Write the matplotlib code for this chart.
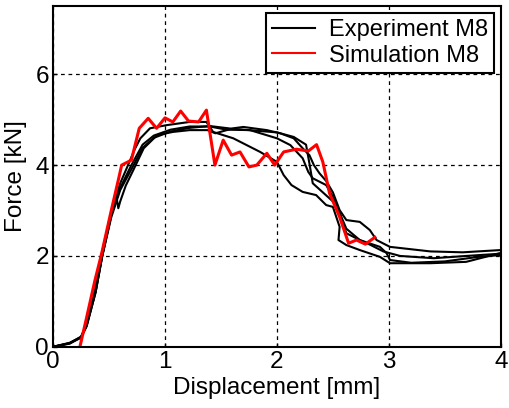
import matplotlib
matplotlib.use("Agg")
import matplotlib.pyplot as plt

plt.rcParams['font.family'] = ['Liberation Sans', 'DejaVu Sans']

# Simulation M8
sim_x = [0.24, 0.295, 0.345, 0.375, 0.435, 0.52, 0.583, 0.613, 0.70, 0.77, 0.85, 0.925, 1.0,
         1.07, 1.14, 1.21, 1.30, 1.37, 1.446, 1.52, 1.595, 1.67, 1.75, 1.82, 1.91, 1.98, 2.06,
         2.175, 2.28, 2.354, 2.41, 2.47, 2.56, 2.64, 2.71, 2.79, 2.875]
sim_y = [0.0, 0.59, 1.14, 1.47, 2.06, 3.0, 3.67, 4.0, 4.11, 4.81, 5.03, 4.81, 5.04,
         4.95, 5.19, 4.97, 4.95, 5.21, 4.0, 4.55, 4.22, 4.29, 3.96, 4.0, 4.26, 4.0, 4.29,
         4.35, 4.31, 4.45, 4.07, 3.38, 2.86, 2.28, 2.35, 2.26, 2.41]

# Experiment M8 (four specimens)
exp1_x = [0.0, 0.15, 0.25, 0.30, 0.375, 0.435, 0.52, 0.60, 0.67, 0.73, 0.78, 0.866, 1.015,
          1.22, 1.37, 1.43, 1.61, 1.85, 2.0, 2.06, 2.13, 2.23, 2.35, 2.44, 2.50, 2.56, 2.55,
          2.62, 2.74, 2.92, 3.01, 3.37, 3.69, 3.99]
exp1_y = [0.0, 0.09, 0.22, 0.5, 1.25, 2.06, 2.94, 3.6, 4.0, 4.35, 4.59, 4.81, 4.88,
          4.95, 4.95, 4.73, 4.59, 4.29, 4.07, 3.78, 3.56, 3.41, 3.34, 3.12, 3.08, 2.64, 2.35,
          2.24, 2.13, 1.98, 1.84, 1.84, 1.87, 2.06]

exp2_x = [0.0, 0.15, 0.25, 0.30, 0.38, 0.44, 0.52, 0.57, 0.583, 0.60, 0.65, 0.717, 0.81,
          0.93, 1.07, 1.22, 1.38, 1.45, 1.61, 1.70, 1.91, 2.03, 2.15, 2.23, 2.29, 2.33, 2.38,
          2.44, 2.50, 2.56, 2.62, 2.74, 2.83, 2.89, 3.01, 3.37, 3.66, 4.0]
exp2_y = [0.0, 0.08, 0.2, 0.45, 1.2, 2.0, 2.9, 3.25, 3.05, 3.2, 3.55, 3.89, 4.37,
          4.66, 4.73, 4.77, 4.77, 4.70, 4.81, 4.84, 4.77, 4.70, 4.59, 4.37, 4.22, 4.0, 3.82,
          3.65, 3.4, 3.01, 2.79, 2.75, 2.57, 2.35, 2.20, 2.10, 2.08, 2.13]

exp3_x = [0.0, 0.15, 0.25, 0.30, 0.38, 0.44, 0.52, 0.60, 0.70, 0.80, 0.90, 1.05, 1.22,
          1.40, 1.55, 1.76, 2.0, 2.12, 2.23, 2.28, 2.32, 2.44, 2.50, 2.58, 2.62, 2.74, 2.92,
          2.98, 3.01, 3.2, 3.5, 3.8, 4.0]
exp3_y = [0.0, 0.07, 0.21, 0.48, 1.22, 2.02, 2.9, 3.5, 4.0, 4.45, 4.65, 4.78, 4.85,
          4.85, 4.78, 4.77, 4.59, 4.44, 4.15, 3.85, 3.71, 3.56, 3.3, 2.8, 2.50, 2.35, 2.2,
          2.06, 1.91, 1.85, 1.88, 1.98, 2.02]

exp4_x = [0.0, 0.15, 0.25, 0.30, 0.38, 0.44, 0.52, 0.60, 0.72, 0.80, 0.90, 1.05, 1.22,
          1.40, 1.60, 1.80, 2.0, 2.15, 2.26, 2.29, 2.32, 2.41, 2.50, 2.56, 2.62, 2.74, 2.83,
          2.95, 3.10, 3.40, 3.69, 4.0]
exp4_y = [0.0, 0.08, 0.22, 0.46, 1.2, 2.0, 2.85, 3.45, 4.0, 4.38, 4.6, 4.74, 4.82,
          4.86, 4.80, 4.76, 4.72, 4.62, 4.45, 4.04, 3.6, 3.4, 3.2, 2.95, 2.6, 2.35, 2.25,
          2.1, 2.0, 1.95, 2.0, 2.05]

exp_x = [exp1_x, exp2_x, exp3_x, exp4_x]
exp_y = [exp1_y, exp2_y, exp3_y, exp4_y]

x_ticks = [0, 1, 2, 3, 4]
y_ticks = [0, 2, 4, 6]

fig = plt.figure(figsize=(5.1, 4.08), dpi=100)
ax = fig.add_axes([0.104, 0.150, 0.878, 0.835])

for i, (xs, ys) in enumerate(zip(exp_x, exp_y)):
    ax.plot(xs, ys, color='black', lw=1.5, label='Experiment M8' if i == 0 else None)
ax.plot(sim_x, sim_y, color='#ff0000', lw=2.2, label='Simulation M8')

ax.set_xlim(0, 4)
ax.set_ylim(0, 7.5)
ax.set_xticks(x_ticks)
ax.set_yticks(y_ticks)
ax.grid(True, color='black', linestyle=(0, (3, 3)), linewidth=0.9)
ax.tick_params(direction='in', length=3, width=1, labelsize=17.5, pad=3)
for s in ax.spines.values():
    s.set_linewidth(1.5)
ax.set_xlabel('Displacement [mm]', fontsize=17.5, labelpad=3)
ax.set_ylabel('Force [kN]', fontsize=17.5, labelpad=6)

leg = ax.legend(loc='upper right', fontsize=17, frameon=True, fancybox=False,
                edgecolor='black', framealpha=1, handlelength=1.8, borderpad=0.25,
                labelspacing=0.15, handletextpad=0.6, borderaxespad=0.3)
leg.get_frame().set_linewidth(1.5)
for h in leg.get_lines():
    h.set_linewidth(1.5)

fig.savefig('out.png', dpi=100)
